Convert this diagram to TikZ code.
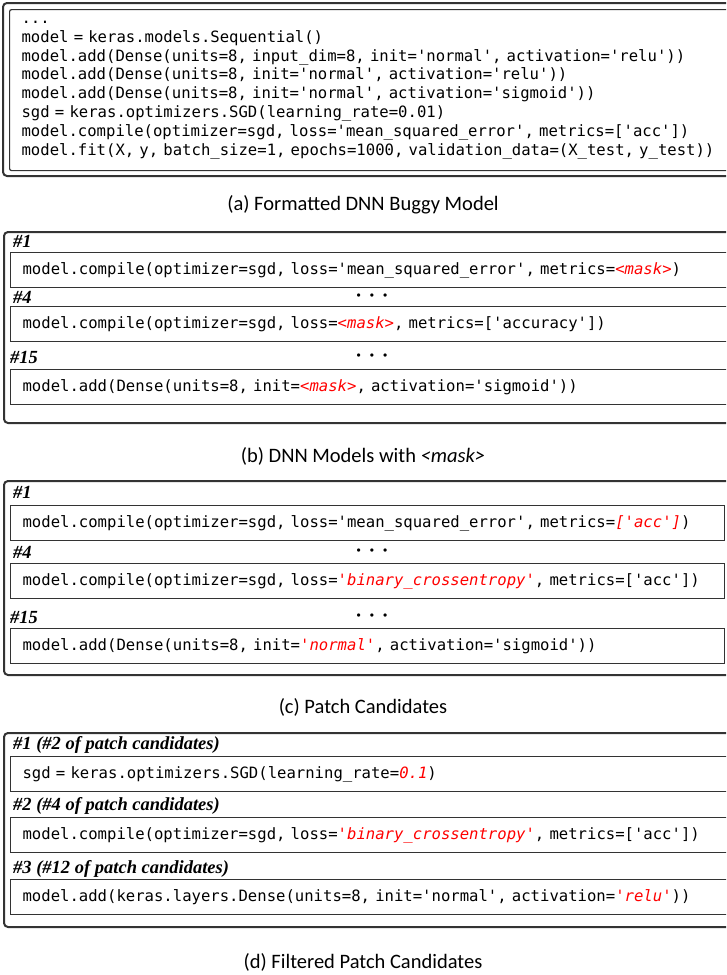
\documentclass[tikz,border=0pt]{standalone}
\usepackage{fontspec}
\setmonofont{DejaVu Sans Mono}
\newfontfamily\capfont{Carlito}
\newfontfamily\tagfont{Liberation Serif}
\usepackage{xcolor}
\usetikzlibrary{positioning}
\newcommand{\fix}[1]{{\color{red}\itshape #1}}
\newcommand{\codesize}{\fontsize{15.6}{18.9}\selectfont\ttfamily}
\newcommand{\tagsize}{\fontsize{18.5}{20}\selectfont}
\newcommand{\capsize}{\fontsize{20.5}{24}\selectfont}
\newcommand{\skipdots}{\textbullet\hspace{9pt}\textbullet\hspace{9pt}\textbullet}

\begin{document}
\begin{tikzpicture}[
  x=1pt, y=-1pt,
  panel/.style={draw=black!80, line width=2pt, rounded corners=4pt},
  codebox/.style={draw=black!80, line width=1.2pt, anchor=north west, align=left,
    inner xsep=12pt, text width=706pt, minimum height=35pt, font=\codesize},
  tag/.style={anchor=west, inner sep=0pt, font=\tagsize\tagfont\bfseries\itshape},
  dots/.style={inner sep=0pt, font=\fontsize{12}{12}\selectfont\tagfont\bfseries},
  caption/.style={font=\capsize\capfont}
]
\useasboundingbox (0,0) rectangle (726,975);
\clip (0,0) rectangle (726,975);

% (a) buggy model
\draw[panel] (3,3) rectangle (740,176);
\node[codebox, minimum height=161pt, rounded corners=2pt] (code) at (9,9)
  {...\\
   model = keras.models.Sequential()\\
   model.add(Dense(units=8, input\_dim=8, init='normal', activation='relu'))\\
   model.add(Dense(units=8, init='normal', activation='relu'))\\
   model.add(Dense(units=8, init='normal', activation='sigmoid'))\\
   sgd = keras.optimizers.SGD(learning\_rate=0.01)\\
   model.compile(optimizer=sgd, loss='mean\_squared\_error', metrics=['acc'])\\
   model.fit(X, y, batch\_size=1, epochs=1000, validation\_data=(X\_test, y\_test))};
\node[caption] (capa) at (363,205) {(a) Formatted DNN Buggy Model};

% (b) masked models
\draw[panel] (4,232) rectangle (740,423);
\node[tag] (mtag1) at (13,241) {\#1};
\node[codebox] (mask1) at (10,252)
  {model.compile(optimizer=sgd, loss='mean\_squared\_error', metrics=\fix{<mask>})};
\node[tag] (mtag2) at (13,297) {\#4};
\node[dots] (mdots1) at (372,297) {\skipdots};
\node[codebox] (mask2) at (10,306)
  {model.compile(optimizer=sgd, loss=\fix{<mask>}, metrics=['accuracy'])};
\node[tag] (mtag3) at (10,357) {\#15};
\node[dots] (mdots2) at (372,357) {\skipdots};
\node[codebox] (mask3) at (10,369)
  {model.add(Dense(units=8, init=\fix{<mask>}, activation='sigmoid'))};
\node[caption] (capb) at (363,456) {(b) DNN Models with {\itshape <mask>}};

% (c) patch candidates
\draw[panel] (4,481) rectangle (740,675);
\node[tag] (ptag1) at (13,492) {\#1};
\node[codebox, text width=690pt] (patch1) at (10,505)
  {model.compile(optimizer=sgd, loss='mean\_squared\_error', metrics=\fix{['acc']})};
\node[tag] (ptag2) at (13,552) {\#4};
\node[dots] (pdots1) at (372,552) {\skipdots};
\node[codebox, text width=690pt] (patch2) at (10,563)
  {model.compile(optimizer=sgd, loss=\fix{'binary\_crossentropy'}, metrics=['acc'])};
\node[tag] (ptag3) at (10,617) {\#15};
\node[dots] (pdots2) at (372,617) {\skipdots};
\node[codebox, text width=690pt] (patch3) at (10,628)
  {model.add(Dense(units=8, init=\fix{'normal'}, activation='sigmoid'))};
\node[caption] (capc) at (363,707) {(c) Patch Candidates};

% (d) filtered patch candidates
\draw[panel] (4,733) rectangle (740,927);
\node[tag] (ftag1) at (13,745) {\#1 (\#2 of patch candidates)};
\node[codebox] (filt1) at (10,756)
  {sgd = keras.optimizers.SGD(learning\_rate=\fix{0.1})};
\node[tag] (ftag2) at (13,806) {\#2 (\#4 of patch candidates)};
\node[codebox] (filt2) at (10,817)
  {model.compile(optimizer=sgd, loss=\fix{'binary\_crossentropy'}, metrics=['acc'])};
\node[tag] (ftag3) at (13,869) {\#3 (\#12 of patch candidates)};
\node[codebox] (filt3) at (10,879)
  {model.add(keras.layers.Dense(units=8, init='normal', activation=\fix{'relu'}))};
\node[caption] (capd) at (363,962) {(d) Filtered Patch Candidates};

\end{tikzpicture}
\end{document}
